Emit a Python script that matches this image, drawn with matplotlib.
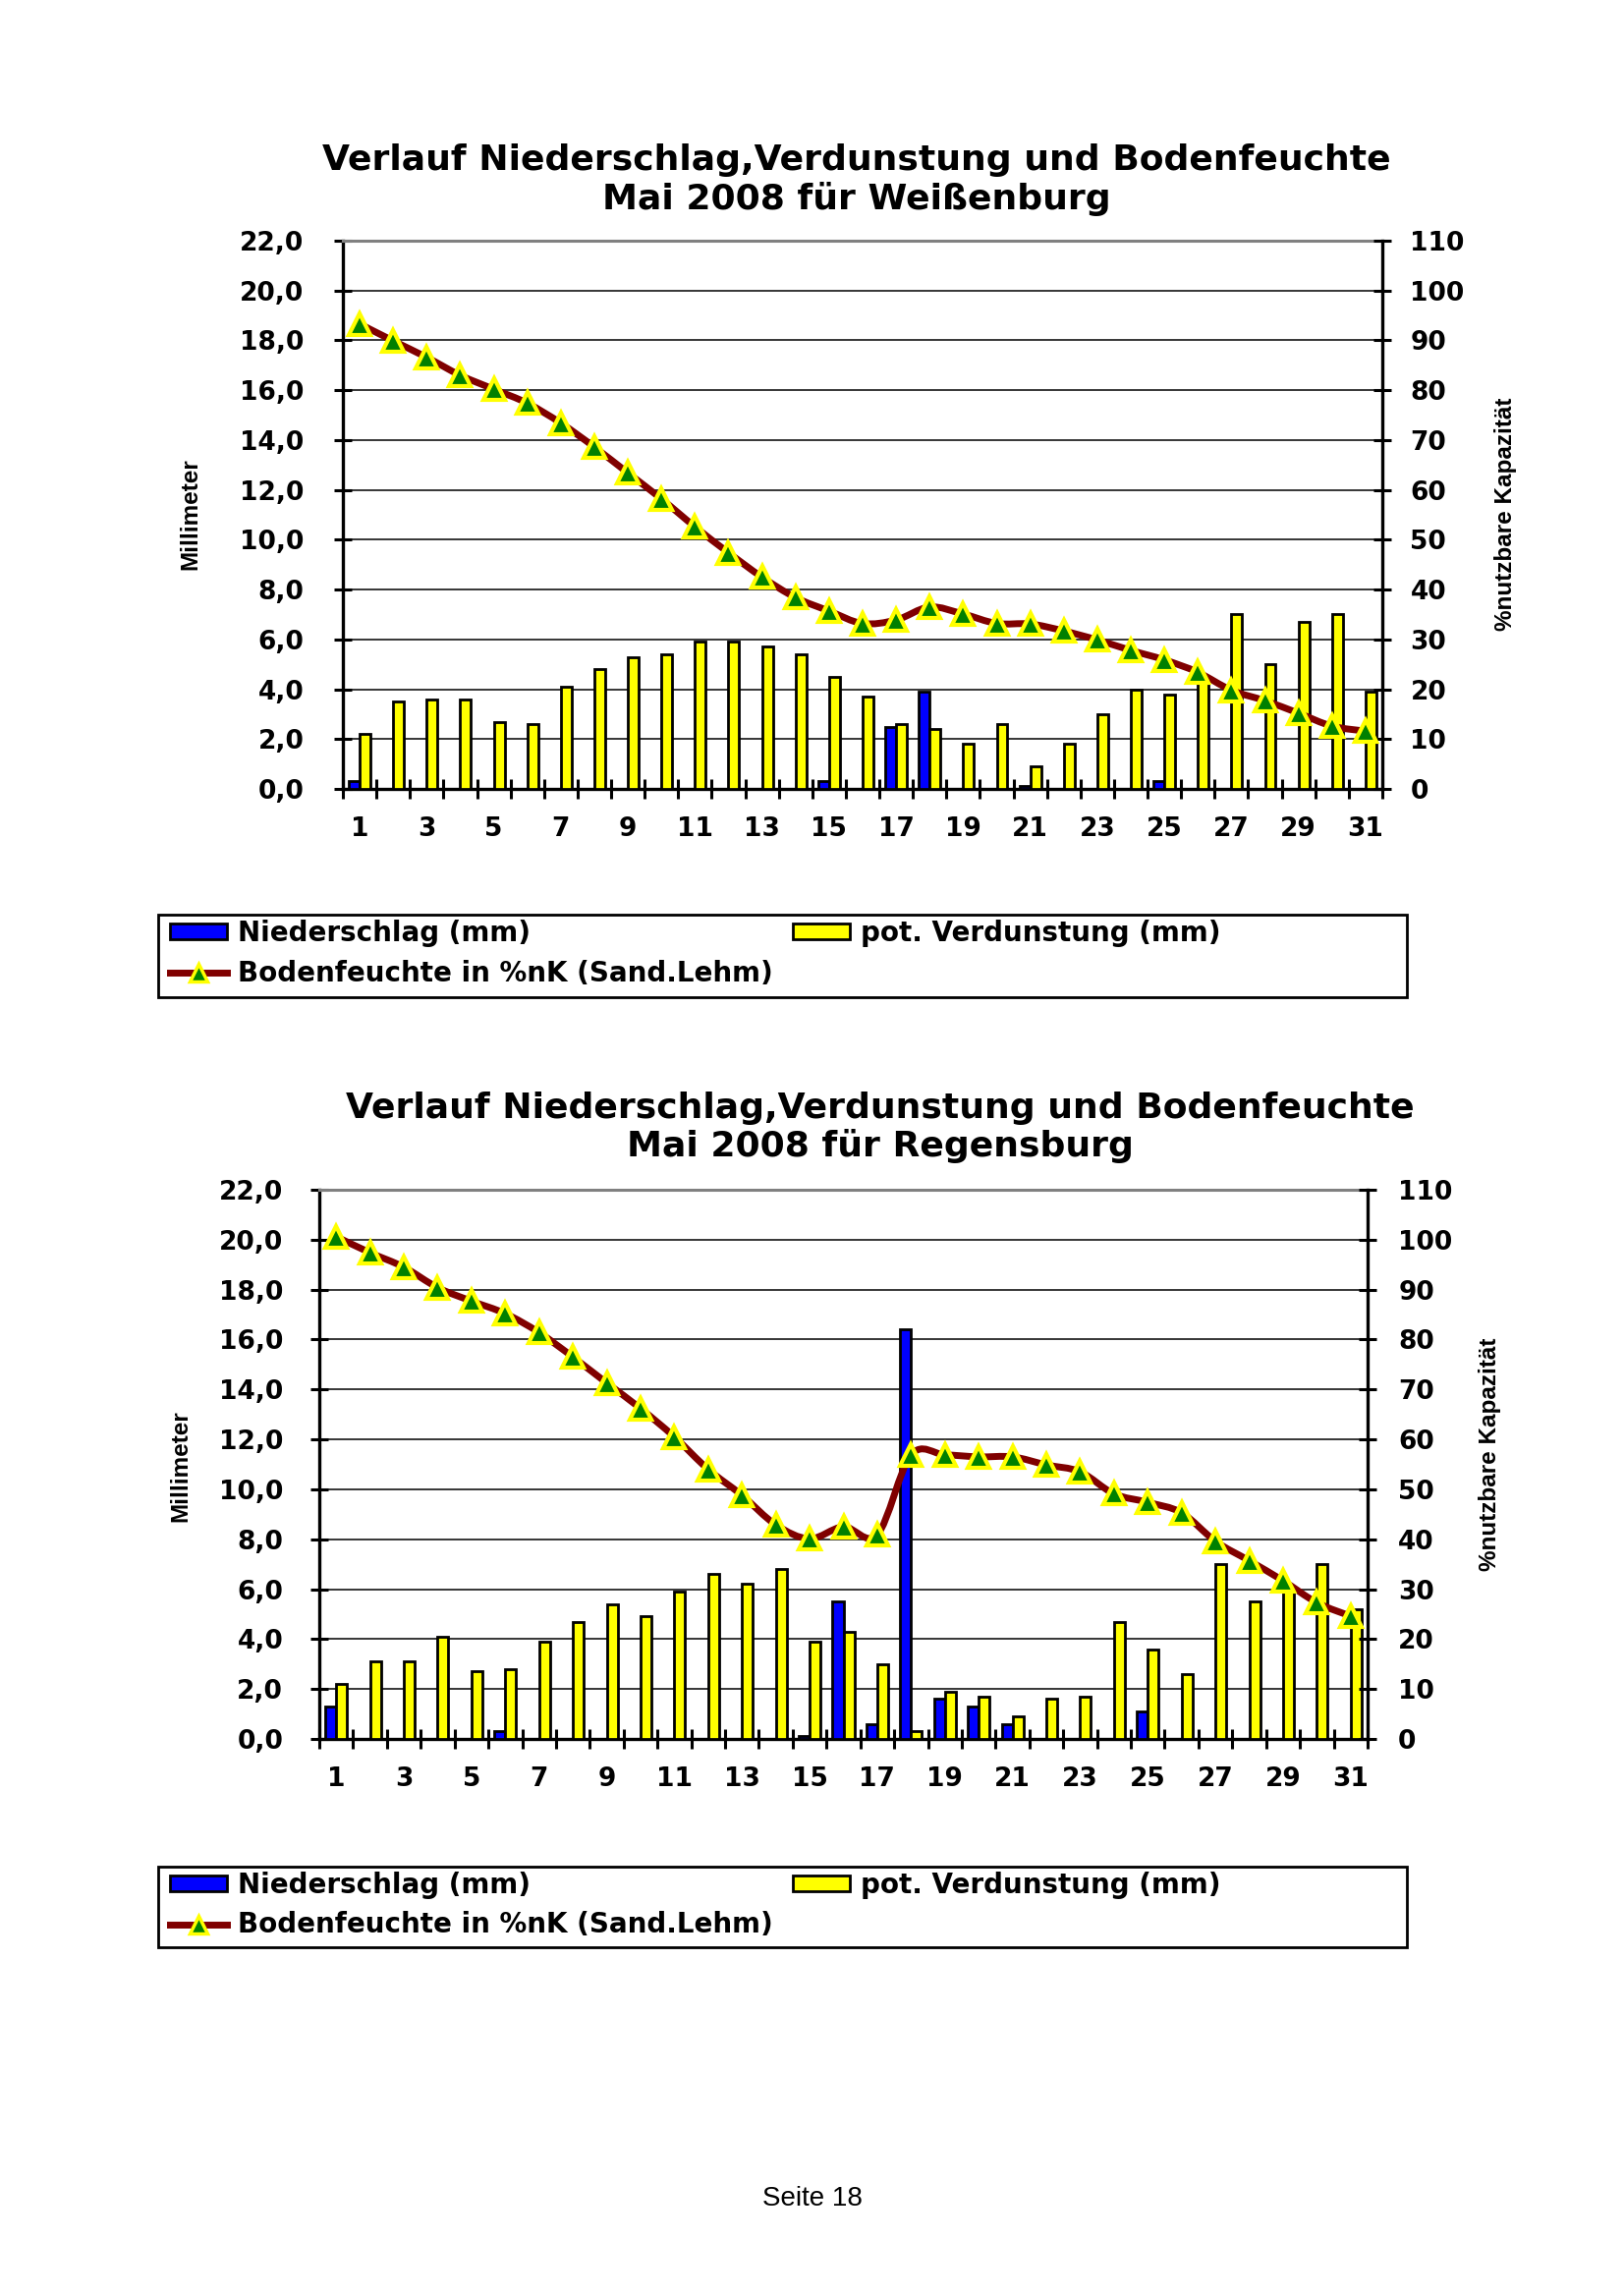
import matplotlib
matplotlib.use("Agg")
import matplotlib.pyplot as plt
from matplotlib.path import Path
from matplotlib.patches import PathPatch, Rectangle, Patch
from matplotlib.lines import Line2D
import numpy as np

# ── Page / palette ────────────────────────────────────────────────────────────
W, H, DPI = 1653, 2337, 100
BLUE = "#0000ff"
YELLOW = "#ffff00"
LINE = "#800000"
MARK = "#008000"
GREY = "#808080"
FONT = "DejaVu Sans"
LABEL_FONT = "Liberation Sans"

plt.rcParams["font.family"] = FONT
plt.rcParams["font.weight"] = "bold"

# ── Data ──────────────────────────────────────────────────────────────────────
days = list(range(1, 32))
mm_ticks = [0, 2, 4, 6, 8, 10, 12, 14, 16, 18, 20, 22]
mm_labels = ["0,0", "2,0", "4,0", "6,0", "8,0", "10,0", "12,0", "14,0",
             "16,0", "18,0", "20,0", "22,0"]
pct_ticks = [0, 10, 20, 30, 40, 50, 60, 70, 80, 90, 100, 110]
day_labels = [str(d) for d in days[::2]]

wb_niederschlag = [0.3, 0, 0, 0, 0, 0, 0, 0, 0, 0, 0, 0, 0, 0, 0.3, 0,
                   2.5, 3.9, 0, 0, 0.1, 0, 0, 0, 0.3, 0, 0, 0, 0, 0, 0]
wb_verdunstung = [2.2, 3.5, 3.6, 3.6, 2.7, 2.6, 4.1, 4.8, 5.3, 5.4, 5.9, 5.9,
                  5.7, 5.4, 4.5, 3.7, 2.6, 2.4, 1.8, 2.6, 0.9, 1.8, 3.0, 4.0,
                  3.8, 4.5, 7.0, 5.0, 6.7, 7.0, 3.9]
wb_boden = [93.3, 89.9, 86.6, 83.0, 80.2, 77.4, 73.4, 68.6, 63.4, 58.2, 52.6,
            47.4, 42.5, 38.4, 35.7, 33.2, 33.9, 36.5, 35.1, 33.2, 33.1, 31.7,
            29.9, 27.8, 25.9, 23.4, 19.8, 17.7, 15.2, 12.6, 11.6]

rg_niederschlag = [1.3, 0, 0, 0, 0, 0.3, 0, 0, 0, 0, 0, 0, 0, 0, 0.1, 5.5,
                   0.6, 16.4, 1.6, 1.3, 0.6, 0, 0, 0, 1.1, 0, 0, 0, 0, 0, 0]
rg_verdunstung = [2.2, 3.1, 3.1, 4.1, 2.7, 2.8, 3.9, 4.7, 5.4, 4.9, 5.9, 6.6,
                  6.2, 6.8, 3.9, 4.3, 3.0, 0.3, 1.9, 1.7, 0.9, 1.6, 1.7, 4.7,
                  3.6, 2.6, 7.0, 5.5, 6.1, 7.0, 5.2]
rg_boden = [100.6, 97.4, 94.5, 90.4, 87.7, 85.2, 81.4, 76.5, 71.3, 66.2, 60.5,
            54.0, 48.8, 42.9, 40.1, 42.5, 40.9, 56.9, 56.9, 56.5, 56.5, 54.9,
            53.5, 49.1, 47.4, 45.3, 39.6, 35.7, 31.7, 27.3, 24.6]

TITLE_1 = "Verlauf Niederschlag,Verdunstung und Bodenfeuchte"
LEG_N = "Niederschlag (mm)"
LEG_V = "pot. Verdunstung (mm)"
LEG_B = "Bodenfeuchte in %nK (Sand.Lehm)"


def fx(x):
    return x / W


def fy(y):
    return 1 - y / H


def smooth_path(xs, ys):
    # Excel-style smoothed line: Catmull-Rom segments as cubic Beziers
    pts = np.column_stack([xs, ys]).astype(float)
    n = len(pts)
    verts, codes = [pts[0]], [Path.MOVETO]
    for i in range(n - 1):
        p0 = pts[i - 1] if i > 0 else pts[i]
        p1, p2 = pts[i], pts[i + 1]
        p3 = pts[i + 2] if i + 2 < n else pts[i + 1]
        verts += [p1 + (p2 - p0) / 6, p2 - (p3 - p1) / 6, p2]
        codes += [Path.CURVE4] * 3
    return Path(verts, codes)


def draw_chart(fig, box, title_xy, place, niederschlag, verdunstung, boden,
               legend_box, ylab_l, ylab_r, lpad, rpad):
    x0, y0, x1, y1 = box
    ax = fig.add_axes([fx(x0), fy(y1), (x1 - x0) / W, (y1 - y0) / H])
    ax2 = ax.twinx()

    idx = np.arange(len(days))
    ax.bar(idx - 0.16, niederschlag, width=0.32, color=BLUE,
           edgecolor="black", linewidth=2, zorder=3)
    ax.bar(idx + 0.16, verdunstung, width=0.32, color=YELLOW,
           edgecolor="black", linewidth=2, zorder=3)

    ax.set_xlim(-0.5, len(days) - 0.5)
    ax.set_ylim(0, 22)
    ax.set_yticks(mm_ticks)
    ax.set_yticklabels(mm_labels)
    ax.set_xticks(np.arange(-0.5, len(days), 1.0))
    ax.set_xticks(idx[::2], minor=True)
    ax.set_xticklabels(day_labels, minor=True)
    ax.tick_params(axis="x", which="major", direction="inout", length=14,
                   width=2.2, labelbottom=False)
    ax.tick_params(axis="x", which="minor", length=0, pad=20, labelsize=19)
    ax.tick_params(axis="y", direction="inout", length=13, width=2.2,
                   pad=lpad, labelsize=19)

    ax.set_axisbelow(True)
    ax.yaxis.grid(True, color="black", linewidth=1.1)
    ax.get_ygridlines()[-1].set_visible(False)
    ax.spines["right"].set_visible(False)
    ax.spines["top"].set_color(GREY)
    ax.spines["top"].set_linewidth(2.2)
    ax.spines["left"].set_linewidth(2.4)
    ax.spines["bottom"].set_linewidth(2.4)

    ax2.set_ylim(0, 110)
    ax2.set_yticks(pct_ticks)
    ax2.tick_params(axis="y", direction="inout", length=13, width=2.2,
                    pad=rpad, labelsize=19)
    for s in ("left", "top", "bottom"):
        ax2.spines[s].set_visible(False)
    ax2.spines["right"].set_linewidth(2.4)

    ax2.add_patch(PathPatch(smooth_path(idx, boden), facecolor="none",
                            edgecolor=LINE, linewidth=5, capstyle="round",
                            joinstyle="round", zorder=4))
    ax2.plot(idx, boden, linestyle="none", marker="^", markersize=16,
             markerfacecolor=MARK, markeredgecolor=YELLOW,
             markeredgewidth=3, zorder=5)

    tx, ty = title_xy
    fig.text(fx(tx), fy(ty), TITLE_1, ha="center", va="center", fontsize=26)
    fig.text(fx(tx), fy(ty + 39), f"Mai 2008 für {place}", ha="center",
             va="center", fontsize=26)

    fig.text(fx(ylab_l[0]), fy(ylab_l[1]), "Millimeter", rotation=90,
             ha="center", va="center", fontsize=17.5, family=LABEL_FONT)
    fig.text(fx(ylab_r[0]), fy(ylab_r[1]), "%nutzbare Kapazität", rotation=90,
             ha="center", va="center", fontsize=17.5, family=LABEL_FONT)

    lx0, ly0, lx1, ly1 = legend_box
    fig.add_artist(Rectangle((fx(lx0), fy(ly1)), (lx1 - lx0) / W,
                             (ly1 - ly0) / H, transform=fig.transFigure,
                             facecolor="none", edgecolor="black",
                             linewidth=2))
    handles = [
        Patch(facecolor=BLUE, edgecolor="black", linewidth=2),
        Line2D([], [], color=LINE, linewidth=5, marker="^", markersize=13,
               markerfacecolor=MARK, markeredgecolor=YELLOW,
               markeredgewidth=2.5),
        Patch(facecolor=YELLOW, edgecolor="black", linewidth=2),
    ]
    fig.legend(handles, [LEG_N, LEG_B, LEG_V], ncol=2, frameon=False,
               loc="upper left",
               bbox_to_anchor=(fx(lx0 + 12), fy(ly0 + 5)),
               fontsize=20, handlelength=2.1, handleheight=0.5,
               handletextpad=0.4, columnspacing=0.7, labelspacing=0.45,
               borderpad=0, borderaxespad=0, numpoints=1)


fig = plt.figure(figsize=(W / DPI, H / DPI), dpi=DPI, facecolor="white")

draw_chart(fig, (349, 245, 1407, 803), (872, 163), "Weißenburg",
           wb_niederschlag, wb_verdunstung, wb_boden,
           (161, 931, 1432, 1015), (194, 523), (1532, 523), 22, 14)

draw_chart(fig, (325, 1211, 1392, 1770), (896, 1128), "Regensburg",
           rg_niederschlag, rg_verdunstung, rg_boden,
           (161, 1900, 1432, 1982), (184, 1492), (1517, 1480), 20, 16)

fig.text(fx(827), fy(2238), "Seite 18", ha="center", va="center",
         fontsize=20, family=LABEL_FONT, weight="normal")

fig.savefig("out.png", dpi=DPI, facecolor="white")
